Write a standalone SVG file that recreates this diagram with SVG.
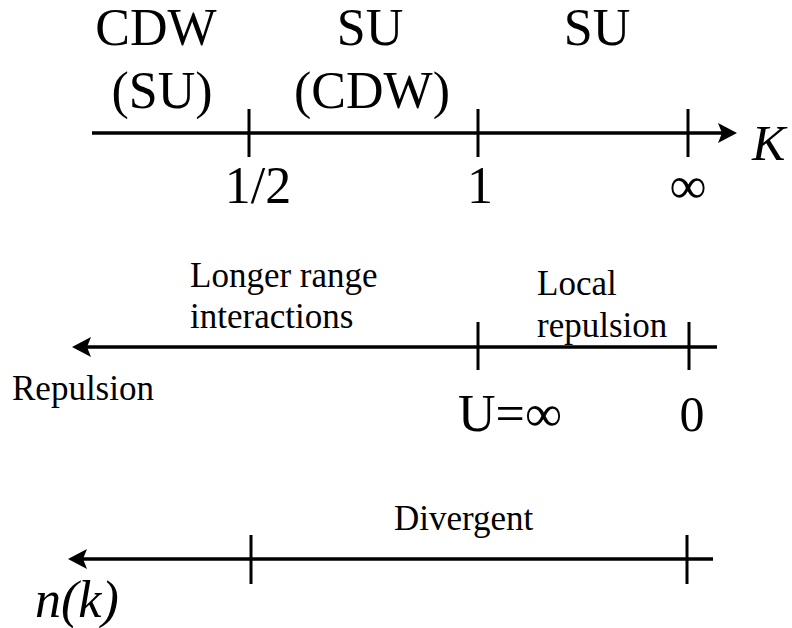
<svg xmlns="http://www.w3.org/2000/svg" width="792" height="628" viewBox="0 0 792 628">
<defs>
<style>
.ax{stroke:#000;stroke-width:3.5;fill:none}
.tk{stroke:#000;stroke-width:3;fill:none}
</style>
</defs>
<rect width="792" height="628" fill="#fff"/>
<g id="connectors">
<line class="ax" x1="92" y1="133" x2="725" y2="133"/>
<path d="M737,133 L718,123 L722,133 L718,143 Z" fill="#000"/>
<line class="tk" x1="249" y1="109" x2="249" y2="157"/>
<line class="tk" x1="478" y1="109" x2="478" y2="157"/>
<line class="tk" x1="688" y1="109" x2="688" y2="157"/>
<line class="ax" x1="84" y1="347" x2="717" y2="347"/>
<path d="M72,347 L91,337 L87,347 L91,357 Z" fill="#000"/>
<line class="tk" x1="478" y1="322" x2="478" y2="370"/>
<line class="tk" x1="689" y1="322" x2="689" y2="370"/>
<line class="ax" x1="80" y1="559" x2="713" y2="559"/>
<path d="M68,559 L87,549 L83,559 L87,569 Z" fill="#000"/>
<line class="tk" x1="251" y1="535" x2="251" y2="584"/>
<line class="tk" x1="687" y1="535" x2="687" y2="584"/>
</g>
<g id="top-axis-labels">
<text x="156" y="45" font-family="Liberation Serif" font-size="52" text-anchor="middle">CDW</text>
<text x="162" y="108" font-family="Liberation Serif" font-size="52" text-anchor="middle">(SU)</text>
<text x="370" y="45" font-family="Liberation Serif" font-size="52" text-anchor="middle">SU</text>
<text x="372" y="108" font-family="Liberation Serif" font-size="52" text-anchor="middle">(CDW)</text>
<text x="597" y="45" font-family="Liberation Serif" font-size="52" text-anchor="middle">SU</text>
<text x="258" y="203" font-family="Liberation Serif" font-size="52" text-anchor="middle">1/2</text>
<text x="480" y="203" font-family="Liberation Serif" font-size="52" text-anchor="middle">1</text>
<text x="688" y="203" font-family="Liberation Serif" font-size="52" text-anchor="middle">∞</text>
<text x="752" y="160" font-family="Liberation Serif" font-size="50" font-style="italic">K</text>
</g>
<g id="middle-axis-labels">
<text x="190" y="287" font-family="Liberation Serif" font-size="35">Longer range</text>
<text x="190" y="328" font-family="Liberation Serif" font-size="35">interactions</text>
<text x="12" y="400" font-family="Liberation Serif" font-size="35">Repulsion</text>
<text x="537" y="295" font-family="Liberation Serif" font-size="35">Local</text>
<text x="537" y="337" font-family="Liberation Serif" font-size="35">repulsion</text>
<text x="458" y="431" font-family="Liberation Serif" font-size="52">U=∞</text>
<text x="692" y="431" font-family="Liberation Serif" font-size="50" text-anchor="middle">0</text>
</g>
<g id="bottom-axis-labels">
<text x="394" y="530" font-family="Liberation Serif" font-size="35">Divergent</text>
<text x="35" y="617" font-family="Liberation Serif" font-size="52" font-style="italic">n(k)</text>
</g>
</svg>
